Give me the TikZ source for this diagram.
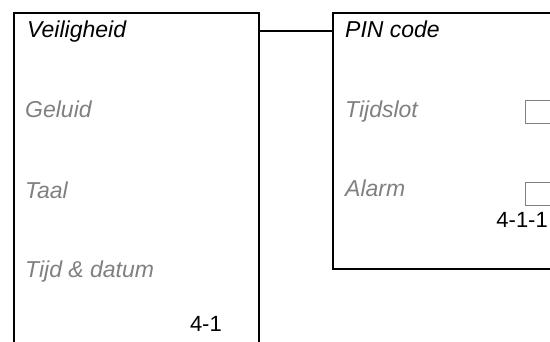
\documentclass[tikz,border=0pt]{standalone}
\usepackage{fontspec}
\setmainfont{Liberation Sans}
\usepackage{xcolor}
\usepackage{tikz}
\definecolor{itemgray}{HTML}{808080}

\begin{document}
\begin{tikzpicture}[x=1pt,y=-1pt]
\tikzstyle{panel} = [rectangle, draw, line width=1.6pt, inner sep=0pt, anchor=north west]
\tikzstyle{title} = [anchor=base west, inner sep=0pt, font=\fontsize{23}{27}\selectfont\itshape]
\tikzstyle{item} = [title, text=itemgray]
\tikzstyle{tag} = [anchor=base east, inner sep=0pt, font=\fontsize{22}{26}\selectfont]
\tikzstyle{check} = [rectangle, draw=itemgray, line width=1.2pt, inner sep=0pt, anchor=north west, minimum width=32pt, minimum height=23pt]
\tikzstyle{link} = [line width=1.2pt]

\useasboundingbox (0,0) rectangle (550,342);
\clip (0,0) rectangle (550,342);

% menu panel (runs off the bottom)
\node (menu) [panel, minimum width=245pt, minimum height=360pt] at (13,12) {};
\node (veil) [title] at (27,38) {Veiligheid};
\node (geluid) [item] at (25,118) {Geluid};
\node (taal) [item] at (25,199) {Taal};
\node (tijd) [item] at (25,278) {Tijd \& datum};
\node (menuno) [tag] at (222,332) {4-1};

% sub panel (runs off the right)
\node (sub) [panel, minimum width=240pt, minimum height=256pt] at (332,12) {};
\node (pin) [title] at (345,38) {PIN code};
\node (slot) [item] at (345,118) {Tijdslot};
\node (alarm) [item] at (345,197) {Alarm};
\node (slotbox) [check] at (525,100) {};
\node (alarmbox) [check] at (525,182) {};
\node (subno) [tag] at (548,228) {4-1-1};

\coordinate (joint) at (0,31);
\draw [link] (menu.east |- joint) -- (sub.west |- joint);

\end{tikzpicture}
\end{document}
